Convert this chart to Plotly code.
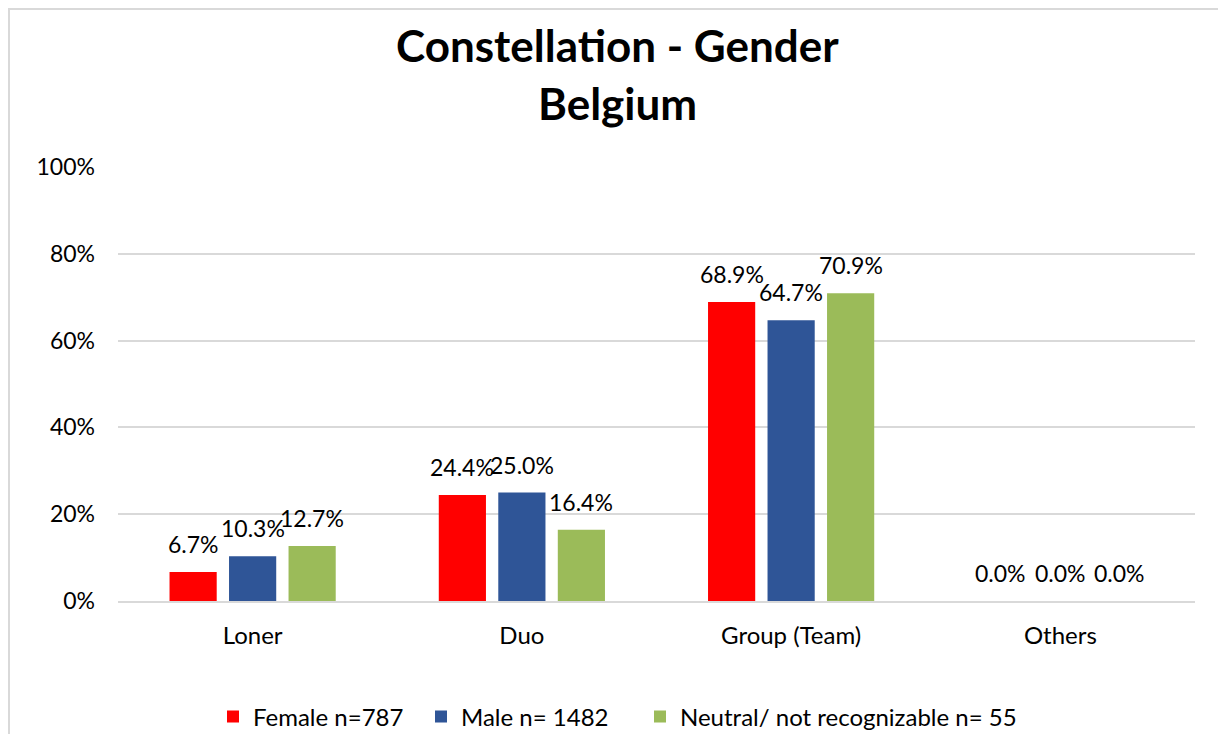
import plotly.graph_objects as go

categories = ["Loner", "Duo", "Group (Team)", "Others"]
female = [0.067, 0.244, 0.689, 0.0]
male = [0.103, 0.250, 0.647, 0.0]
neutral = [0.127, 0.164, 0.709, 0.0]
series_names = ["Female n=787", "Male n= 1482", "Neutral/ not recognizable n= 55"]
colors = ["#FF0000", "#2F5597", "#9BBB59"]
y_ticks = [0, 0.2, 0.4, 0.6, 0.8, 1.0]
y_tick_labels = ["0%", "20%", "40%", "60%", "80%", "100%"]
title_lines = ["Constellation - Gender", "Belgium"]

FONT = "Lato"
W, H = 1218, 734
L, T = 118, 167
R = W - 1195
B = H - 601
PW, PH = W - L - R, H - T - B
BARGAP, GROUPGAP = 0.337, 0.207
slot = PW / len(categories) * (1 - BARGAP) / 3
legend_ids = ["legend", "legend2", "legend3"]
legend_left_px = [213, 421, 640]

fig = go.Figure()
annos = []
for k, (name, vals, col) in enumerate(zip(series_names, [female, male, neutral], colors)):
    fig.add_trace(go.Bar(
        x=categories, y=vals, name=name, legend=legend_ids[k], showlegend=True,
        marker=dict(color=col, line=dict(width=0)),
    ))
    for c, v in zip(categories, vals):
        annos.append(dict(text="%.1f%%" % (v * 100), x=c, y=v, xref="x", yref="y",
                          xshift=(k - 1) * slot, yshift=12, xanchor="center",
                          yanchor="bottom", showarrow=False,
                          font=dict(family=FONT, size=23, color="#000000")))

for line, yc in zip(title_lines, [45, 103]):
    annos.append(dict(text="<b>%s</b>" % line, xref="paper", yref="paper",
                      x=(617 - L) / PW, y=1 + (T - yc) / PH,
                      xanchor="center", yanchor="middle", showarrow=False,
                      font=dict(family=FONT, size=44, color="#000000")))

legends = {}
for lid, lx in zip(legend_ids, legend_left_px):
    legends[lid] = dict(orientation="h", x=(lx - L) / PW, xanchor="left",
                        y=-(717 - 601) / PH, yanchor="middle", visible=True,
                        font=dict(family=FONT, size=24, color="#000000"),
                        itemwidth=30, bgcolor="rgba(0,0,0,0)")

fig.update_layout(
    width=W, height=H, showlegend=True,
    paper_bgcolor="white", plot_bgcolor="white",
    margin=dict(l=L, r=R, t=T, b=B, autoexpand=False),
    barmode="group", bargap=BARGAP, bargroupgap=GROUPGAP,
    font=dict(family=FONT, size=23, color="#000000"),
    annotations=annos,
    xaxis=dict(showgrid=False, showline=True, linecolor="#D9D9D9", linewidth=2,
               ticks="", ticklabelstandoff=12,
               tickfont=dict(family=FONT, size=24, color="#000000")),
    yaxis=dict(range=[0, 1], tickvals=y_ticks, ticktext=y_tick_labels,
               showgrid=True, gridcolor="#D9D9D9", gridwidth=1.5,
               zeroline=False, showline=False, ticks="", ticklabelstandoff=22,
               tickfont=dict(family=FONT, size=23, color="#000000")),
    shapes=[dict(type="rect", xref="paper", yref="paper",
                 x0=(9 - L) / PW, x1=1.3, y0=-0.6, y1=1 + (T - 9) / PH,
                 line=dict(color="#D9D9D9", width=2), fillcolor="rgba(0,0,0,0)",
                 layer="below")],
    **legends,
)

fig.write_html("out.html", config={"displayModeBar": False},
               post_script="document.body.style.margin='0';document.body.style.overflow='hidden';")
